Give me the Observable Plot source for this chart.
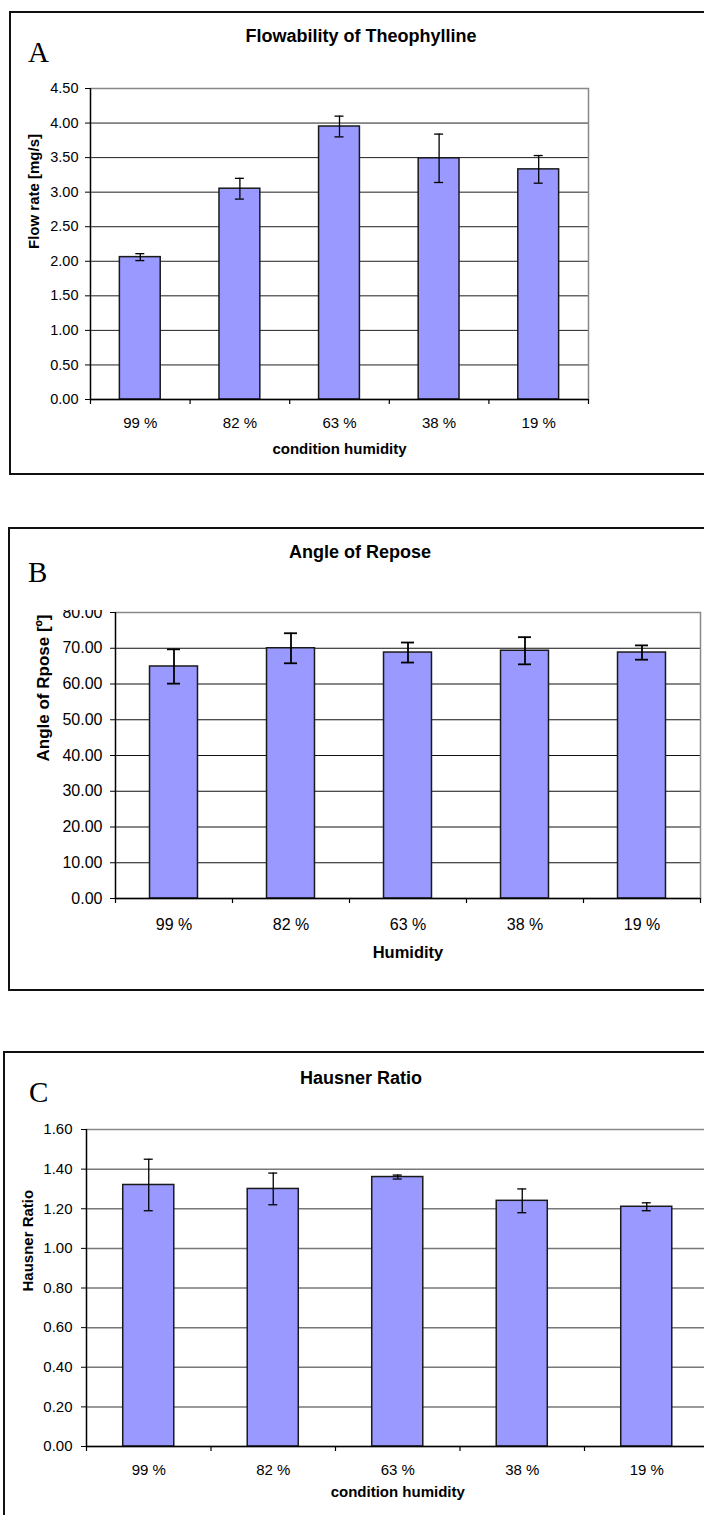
<!DOCTYPE html>
<html>
<head>
<meta charset="utf-8">
<script src="https://cdn.jsdelivr.net/npm/d3@7"></script>
<script src="https://cdn.jsdelivr.net/npm/@observablehq/plot@0.6"></script>
<style>
  html, body { margin: 0; padding: 0; width: 704px; height: 1515px; overflow: hidden; background: #fff; }
  body { position: relative; font-family: "Liberation Sans", Arial, sans-serif; color: #000; }
  .box { position: absolute; border: 2px solid #111; box-sizing: border-box; }
  .title { position: absolute; font-weight: bold; font-size: 18px; line-height: 1; text-align: center; white-space: nowrap; width: 600px; }
  .letter { position: absolute; font-family: "Liberation Serif", "Times New Roman", serif; font-size: 29px; line-height: 1; }
  .chart { position: absolute; left: 0; }
</style>
</head>
<body>
<div class="box" style="left:9px;top:11px;width:720px;height:464px;"></div>
<div class="box" style="left:8px;top:527px;width:720px;height:464px;"></div>
<div class="box" style="left:3px;top:1051px;width:720px;height:520px;"></div>

<div class="title" style="left:61px;top:27px;">Flowability of Theophylline</div>
<div class="letter" style="left:28px;top:38px;">A</div>
<div class="title" style="left:60px;top:543px;">Angle of Repose</div>
<div class="letter" style="left:28px;top:558px;">B</div>
<div class="title" style="left:61px;top:1069px;">Hausner Ratio</div>
<div class="letter" style="left:29px;top:1078px;">C</div>

<div class="chart" id="chartA" style="top:60px;width:704px;"></div>
<div class="chart" id="chartB" style="top:610px;width:704px;"></div>
<div class="chart" id="chartC" style="top:1100px;width:712px;"></div>

<script>
// ---- data ----
const categories = ["99 %", "82 %", "63 %", "38 %", "19 %"];

const flowRate = [2.06, 3.05, 3.95, 3.49, 3.33];
const flowRateErr = [0.05, 0.15, 0.15, 0.35, 0.20];

const reposeAngle = [64.9, 70.0, 68.8, 69.3, 68.8];
const reposeAngleErr = [4.8, 4.2, 2.8, 3.8, 2.0];

const hausnerRatio = [1.32, 1.30, 1.36, 1.24, 1.21];
const hausnerRatioErr = [0.13, 0.08, 0.01, 0.06, 0.02];

const flowTicks = [0, 0.5, 1, 1.5, 2, 2.5, 3, 3.5, 4, 4.5];
const angleTicks = [0, 10, 20, 30, 40, 50, 60, 70, 80];
const hausnerTicks = [0, 0.2, 0.4, 0.6, 0.8, 1.0, 1.2, 1.4, 1.6];

const FONT = '"Liberation Sans", Arial, sans-serif';

function panel(o) {
  const rows = categories.map((c, i) => ({cat: c, v: o.values[i], e: o.errors[i]}));
  const step = (o.width - o.ml - o.mr) / categories.length;
  const padIn = 0.59;
  const bw = step * (1 - padIn);
  const capInset = (bw - o.cap) / 2;
  const top = o.ticks[o.ticks.length - 1];
  const fmt = d3.format(".2f");
  const gridTicks = o.ticks.filter(t => t > 0 && t < top);
  return Plot.plot({
    width: o.width,
    height: o.height,
    marginLeft: o.ml, marginRight: o.mr, marginTop: o.mt, marginBottom: o.mb,
    style: {fontFamily: FONT, fontSize: o.xfs + "px", color: "#000", background: "transparent", overflow: o.overflow, maxWidth: "none"},
    x: {domain: categories, paddingInner: padIn, paddingOuter: padIn / 2, round: false},
    y: {domain: [0, top]},
    marks: [
      Plot.ruleY(gridTicks, {stroke: o.grid, strokeWidth: o.gridW}),
      Plot.frame({stroke: "#888", strokeWidth: 1.5}),
      Plot.barY(rows, {x: "cat", y: "v", fill: "#9999ff", stroke: "#1a1a1a", strokeWidth: 1.5}),
      Plot.ruleX(rows, {x: "cat", y1: d => d.v - d.e, y2: d => d.v + d.e, stroke: "#000", strokeWidth: o.ew}),
      Plot.tickY(rows, {x: "cat", y: d => d.v + d.e, inset: capInset, stroke: "#000", strokeWidth: o.ew}),
      Plot.tickY(rows, {x: "cat", y: d => d.v - d.e, inset: capInset, stroke: "#000", strokeWidth: o.ew}),
      Plot.ruleY([0], {stroke: "#000", strokeWidth: 1.3}),
      Plot.ruleX([categories[0]], {dx: -step / 2, y1: 0, y2: top, stroke: "#000", strokeWidth: 1.3}),
      Plot.ruleX(categories, {dx: -step / 2, y1: 0, y2: 0, insetBottom: -5, stroke: "#000", strokeWidth: 1.2}),
      Plot.ruleX([categories[categories.length - 1]], {dx: step / 2, y1: 0, y2: 0, insetBottom: -5, stroke: "#000", strokeWidth: 1.2}),
      Plot.axisY({ticks: o.ticks, tickFormat: fmt, tickSize: 5, tickPadding: o.ytp, fontSize: o.yfs, label: null}),
      Plot.axisX({tickSize: 0, tickPadding: o.xtp, fontSize: o.xfs, label: null}),
      Plot.text([o.ylabel], {frameAnchor: "left", rotate: -90, dx: o.ydx, dy: o.ydy, fontWeight: "bold", fontSize: o.ylfs}),
      Plot.text([o.xlabel], {frameAnchor: "bottom", dy: o.xdy, fontWeight: "bold", fontSize: o.xlfs})
    ]
  });
}

document.getElementById("chartA").append(panel({
  values: flowRate, errors: flowRateErr, ticks: flowTicks,
  width: 704, height: 410, ml: 90, mr: 116, mt: 28, mb: 71,
  yfs: 14.5, xfs: 15, ytp: 7, xtp: 18,
  ylabel: "Flow rate [mg/s]", ylfs: 15, ydx: -56, ydy: 5,
  xlabel: "condition humidity", xlfs: 15, xdy: 54,
  cap: 9, ew: 1.3, grid: "#1f1f1f", gridW: 1, overflow: "visible"
}));

document.getElementById("chartB").append(panel({
  values: reposeAngle, errors: reposeAngleErr, ticks: angleTicks,
  width: 704, height: 374, ml: 115, mr: 4, mt: 2, mb: 86,
  yfs: 16, xfs: 16, ytp: 8, xtp: 20.5,
  ylabel: "Angle of Rpose [º]", ylfs: 17, ydx: -72, ydy: 6,
  xlabel: "Humidity", xlfs: 16.5, xdy: 59,
  cap: 13, ew: 1.8, grid: "#111", gridW: 1, overflow: "hidden"
}));

document.getElementById("chartC").append(panel({
  values: hausnerRatio, errors: hausnerRatioErr, ticks: hausnerTicks,
  width: 712, height: 415, ml: 86, mr: 3.5, mt: 29, mb: 69,
  yfs: 15, xfs: 15, ytp: 9, xtp: 17.7,
  ylabel: "Hausner Ratio", ylfs: 15, ydx: -58, ydy: 3.5,
  xlabel: "condition humidity", xlfs: 15, xdy: 50,
  cap: 9, ew: 1.3, grid: "#777", gridW: 1.5, overflow: "visible"
}));
</script>
</body>
</html>
